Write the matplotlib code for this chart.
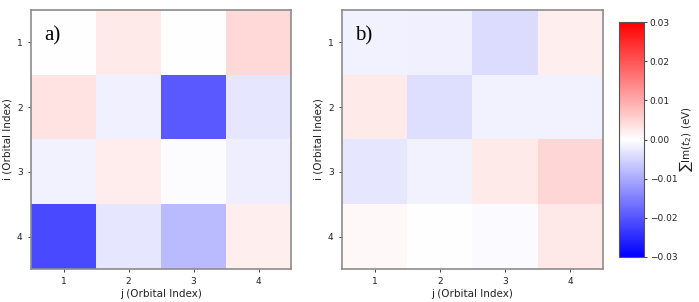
import numpy as np
import matplotlib
matplotlib.use("Agg")
from matplotlib import pyplot as plt

orbitals = [1, 2, 3, 4]

# sum Im(t2) in eV, rows i = 1..4, cols j = 1..4
panel_a = [
    [0.0002, 0.0024, 0.0000, 0.0045],
    [0.0035, -0.0018, -0.0194, -0.0030],
    [-0.0015, 0.0022, -0.0003, -0.0020],
    [-0.0212, -0.0030, -0.0082, 0.0020],
]
panel_b = [
    [-0.0015, -0.0018, -0.0040, 0.0020],
    [0.0024, -0.0038, -0.0016, -0.0016],
    [-0.0030, -0.0016, 0.0024, 0.0047],
    [0.0008, -0.0002, -0.0005, 0.0027],
]
panel_labels = ["a)", "b)"]
vmin, vmax = -0.03, 0.03

fig = plt.figure(figsize=(6.99, 3.02), dpi=100)
ax_a = fig.add_axes([31 / 699, 1 - 269 / 302, 260 / 699, 259 / 302])
ax_b = fig.add_axes([342 / 699, 1 - 269 / 302, 261 / 699, 259 / 302])
cax = fig.add_axes([619 / 699, 1 - 257 / 302, 25 / 699, 235 / 302])

frame_color = "#8c8c8c"
for ax, data, lab in zip([ax_a, ax_b], [panel_a, panel_b], panel_labels):
    im = ax.imshow(np.array(data), cmap="bwr", vmin=vmin, vmax=vmax,
                   aspect="auto", extent=[0.5, 4.5, 4.5, 0.5])
    ax.set_xticks(orbitals)
    ax.set_yticks(orbitals)
    ax.tick_params(labelsize=6.5, length=2.5, width=0.6, colors="#222222")
    ax.set_xlabel("j (Orbital Index)", fontsize=7.5, labelpad=2, color="#222222")
    ax.set_ylabel("i (Orbital Index)", fontsize=7.5, labelpad=3, color="#222222")
    for sp in ax.spines.values():
        sp.set_color(frame_color)
        sp.set_linewidth(1.2)
    ax.text(0.05, 0.9, lab, transform=ax.transAxes, fontsize=15,
            family="Liberation Serif", ha="left", va="center")

cb = fig.colorbar(im, cax=cax, ticks=[-0.03, -0.02, -0.01, 0.0, 0.01, 0.02, 0.03])
cb.ax.tick_params(labelsize=6.5, length=2.5, width=0.6, pad=1.5, colors="#222222")
cb.outline.set_edgecolor("#555555")
cb.outline.set_linewidth(0.8)
cb.set_label(r"$\sum\mathrm{Im}(t_2)$ (eV)", fontsize=7.5, labelpad=0, color="#222222")

fig.savefig("out.png", dpi=100)
